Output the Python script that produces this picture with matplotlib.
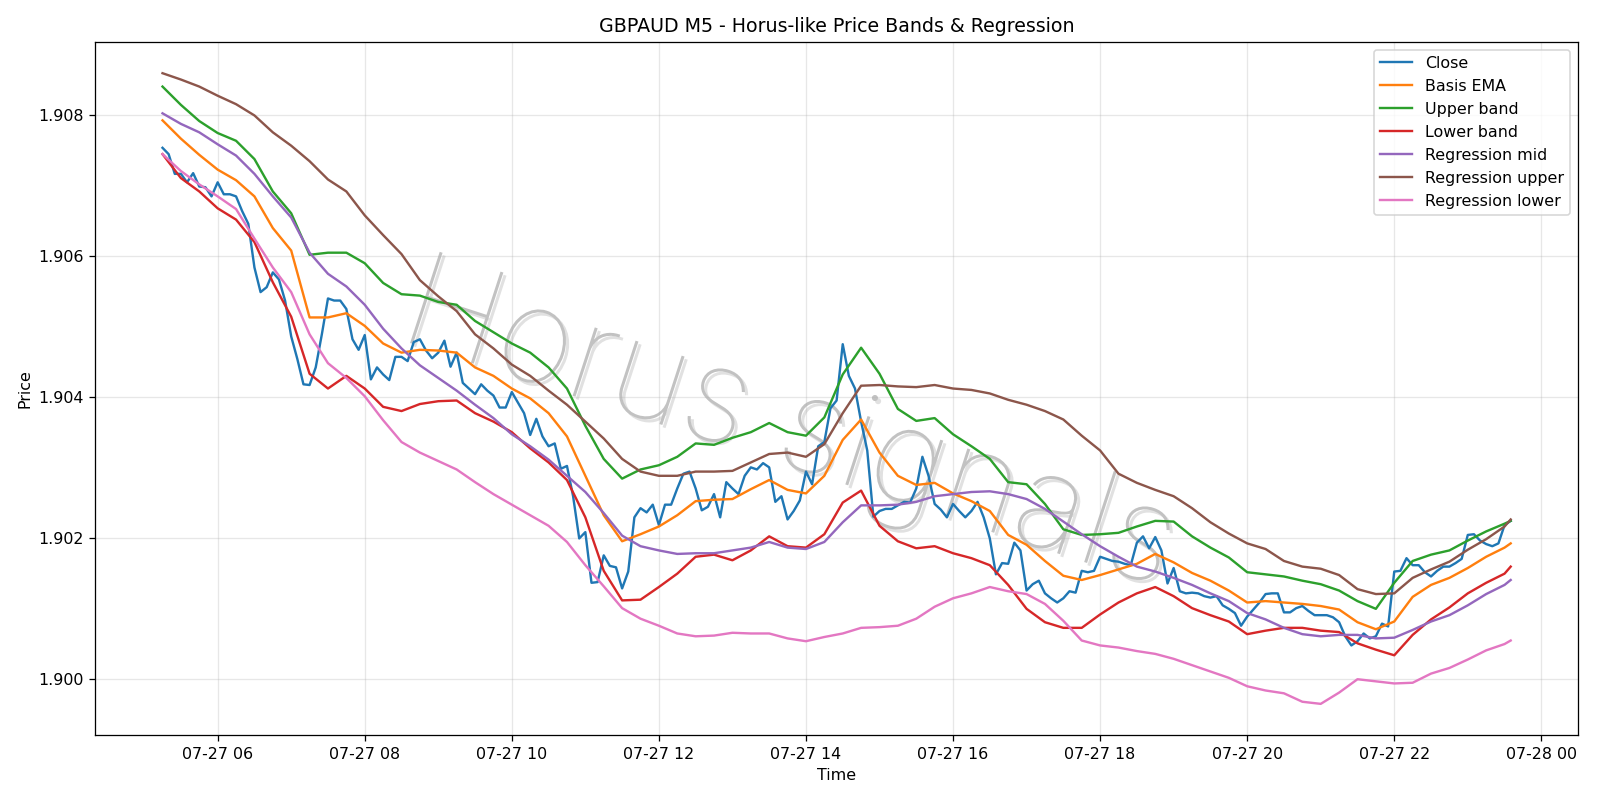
import matplotlib
matplotlib.use("Agg")
import matplotlib.pyplot as plt
import matplotlib.dates as mdates
import matplotlib.patheffects as pe
from matplotlib import font_manager as fm
import pandas as pd

# ---- data ----
start = "2025-07-27 05:15"
close = [
    1.90754, 1.90745, 1.90717, 1.90717, 1.90705, 1.90718, 1.90699, 1.90698, 1.90685, 1.90705,
    1.90688, 1.90688, 1.90685, 1.90664, 1.90646, 1.90584, 1.90549, 1.90556, 1.90577, 1.90567,
    1.90537, 1.90486, 1.90454, 1.90418, 1.90417, 1.90442, 1.90489, 1.90540, 1.90537, 1.90537,
    1.90525, 1.90482, 1.90467, 1.90488, 1.90425, 1.90442, 1.90432, 1.90424, 1.90457, 1.90457,
    1.90451, 1.90478, 1.90482, 1.90466, 1.90455, 1.90463, 1.90480, 1.90443, 1.90463, 1.90420,
    1.90412, 1.90404, 1.90418, 1.90409, 1.90402, 1.90385, 1.90385, 1.90407, 1.90392, 1.90377,
    1.90346, 1.90369, 1.90344, 1.90330, 1.90334, 1.90298, 1.90302, 1.90259, 1.90199, 1.90208,
    1.90136, 1.90137, 1.90175, 1.90160, 1.90158, 1.90128, 1.90152, 1.90229, 1.90242, 1.90236,
    1.90247, 1.90218, 1.90247, 1.90247, 1.90270, 1.90291, 1.90294, 1.90270, 1.90239, 1.90244,
    1.90262, 1.90229, 1.90279, 1.90270, 1.90262, 1.90288, 1.90300, 1.90297, 1.90306, 1.90300,
    1.90251, 1.90259, 1.90226, 1.90238, 1.90253, 1.90294, 1.90276, 1.90330, 1.90336, 1.90384,
    1.90395, 1.90475, 1.90430, 1.90412, 1.90365, 1.90324, 1.90230, 1.90238, 1.90241, 1.90241,
    1.90246, 1.90251, 1.90250, 1.90270, 1.90315, 1.90288, 1.90248, 1.90240, 1.90229, 1.90248,
    1.90238, 1.90229, 1.90238, 1.90251, 1.90229, 1.90199, 1.90148, 1.90164, 1.90163, 1.90193,
    1.90182, 1.90125, 1.90134, 1.90139, 1.90121, 1.90114, 1.90108, 1.90114, 1.90124, 1.90122,
    1.90153, 1.90151, 1.90153, 1.90173, 1.90170, 1.90167, 1.90166, 1.90163, 1.90161, 1.90193,
    1.90202, 1.90185, 1.90201, 1.90182, 1.90135, 1.90157, 1.90124, 1.90121, 1.90122, 1.90121,
    1.90117, 1.90115, 1.90117, 1.90104, 1.90099, 1.90093, 1.90075, 1.90088, 1.90098, 1.90108,
    1.90120, 1.90121, 1.90121, 1.90094, 1.90094, 1.90100, 1.90103, 1.90096, 1.90090, 1.90090,
    1.90090, 1.90087, 1.90080, 1.90060, 1.90047, 1.90053, 1.90064, 1.90057, 1.90060, 1.90078,
    1.90074, 1.90152, 1.90153, 1.90171, 1.90161, 1.90161, 1.90151, 1.90145, 1.90153, 1.90159,
    1.90159, 1.90164, 1.90170, 1.90204, 1.90205, 1.90196, 1.90191, 1.90188, 1.90192, 1.90218,
    1.90224,
]

# band / regression series sampled every 15 minutes (last point 23:35)
basis_ema = [
    1.90793, 1.90767, 1.90744, 1.90723, 1.90708, 1.90685, 1.90640, 1.90608, 1.90513, 1.90513,
    1.90519, 1.90501, 1.90476, 1.90463, 1.90467, 1.90466, 1.90463, 1.90442, 1.90430, 1.90412,
    1.90398, 1.90377, 1.90344, 1.90288, 1.90232, 1.90195, 1.90205, 1.90216, 1.90232, 1.90252,
    1.90254, 1.90255, 1.90269, 1.90282, 1.90268, 1.90263, 1.90288, 1.90339, 1.90368, 1.90321,
    1.90288, 1.90275, 1.90278, 1.90263, 1.90252, 1.90238, 1.90204, 1.90190, 1.90167, 1.90146,
    1.90140, 1.90147, 1.90155, 1.90163, 1.90177, 1.90165, 1.90150, 1.90139, 1.90125, 1.90108,
    1.90110, 1.90108, 1.90106, 1.90103, 1.90098, 1.90080, 1.90070, 1.90081, 1.90116, 1.90133,
    1.90143, 1.90157, 1.90173, 1.90186, 1.90192,
]
upper_band = [
    1.90841, 1.90815, 1.90792, 1.90775, 1.90764, 1.90738, 1.90692, 1.90661, 1.90602, 1.90605,
    1.90605, 1.90590, 1.90562, 1.90546, 1.90544, 1.90535, 1.90531, 1.90508, 1.90492, 1.90476,
    1.90463, 1.90442, 1.90412, 1.90359, 1.90312, 1.90284, 1.90297, 1.90303, 1.90315, 1.90334,
    1.90332, 1.90342, 1.90350, 1.90363, 1.90350, 1.90345, 1.90371, 1.90432, 1.90470, 1.90433,
    1.90383, 1.90366, 1.90370, 1.90347, 1.90330, 1.90312, 1.90279, 1.90276, 1.90248, 1.90212,
    1.90204, 1.90205, 1.90207, 1.90216, 1.90224, 1.90223, 1.90202, 1.90186, 1.90172, 1.90151,
    1.90148, 1.90145, 1.90139, 1.90134, 1.90125, 1.90110, 1.90099, 1.90136, 1.90167, 1.90176,
    1.90182, 1.90196, 1.90209, 1.90220, 1.90224,
]
lower_band = [
    1.90745, 1.90711, 1.90692, 1.90668, 1.90652, 1.90620, 1.90563, 1.90514, 1.90433, 1.90412,
    1.90430, 1.90412, 1.90386, 1.90380, 1.90390, 1.90394, 1.90395, 1.90377, 1.90365, 1.90350,
    1.90327, 1.90307, 1.90282, 1.90229, 1.90153, 1.90111, 1.90112, 1.90130, 1.90149, 1.90173,
    1.90176, 1.90168, 1.90182, 1.90202, 1.90188, 1.90186, 1.90205, 1.90250, 1.90267, 1.90217,
    1.90195, 1.90185, 1.90188, 1.90178, 1.90171, 1.90161, 1.90133, 1.90099, 1.90080, 1.90072,
    1.90072, 1.90091, 1.90108, 1.90121, 1.90130, 1.90117, 1.90100, 1.90090, 1.90081, 1.90063,
    1.90068, 1.90072, 1.90072, 1.90068, 1.90066, 1.90050, 1.90041, 1.90033, 1.90062, 1.90084,
    1.90101, 1.90121, 1.90136, 1.90149, 1.90159,
]
reg_mid = [
    1.90803, 1.90788, 1.90776, 1.90759, 1.90743, 1.90717, 1.90685, 1.90655, 1.90605, 1.90575,
    1.90557, 1.90531, 1.90497, 1.90469, 1.90445, 1.90427, 1.90409, 1.90389, 1.90370, 1.90347,
    1.90330, 1.90311, 1.90288, 1.90265, 1.90235, 1.90203, 1.90188, 1.90182, 1.90177, 1.90178,
    1.90178, 1.90182, 1.90186, 1.90194, 1.90186, 1.90184, 1.90194, 1.90222, 1.90246, 1.90246,
    1.90247, 1.90251, 1.90259, 1.90262, 1.90265, 1.90266, 1.90262, 1.90255, 1.90241, 1.90223,
    1.90205, 1.90188, 1.90173, 1.90159, 1.90152, 1.90143, 1.90133, 1.90121, 1.90110, 1.90093,
    1.90084, 1.90072, 1.90063, 1.90060, 1.90062, 1.90062, 1.90057, 1.90058, 1.90069, 1.90081,
    1.90090, 1.90104, 1.90120, 1.90133, 1.90140,
]
reg_upper = [
    1.90860, 1.90851, 1.90841, 1.90828, 1.90816, 1.90800, 1.90776, 1.90757, 1.90735, 1.90709,
    1.90692, 1.90658, 1.90630, 1.90603, 1.90566, 1.90543, 1.90522, 1.90489, 1.90469, 1.90446,
    1.90430, 1.90409, 1.90389, 1.90365, 1.90341, 1.90312, 1.90294, 1.90288, 1.90288, 1.90294,
    1.90294, 1.90295, 1.90307, 1.90319, 1.90321, 1.90315, 1.90333, 1.90377, 1.90416, 1.90417,
    1.90415, 1.90414, 1.90417, 1.90412, 1.90410, 1.90405, 1.90396, 1.90389, 1.90380, 1.90368,
    1.90345, 1.90324, 1.90291, 1.90278, 1.90268, 1.90259, 1.90242, 1.90222, 1.90206, 1.90192,
    1.90184, 1.90167, 1.90159, 1.90156, 1.90147, 1.90127, 1.90120, 1.90121, 1.90143, 1.90155,
    1.90166, 1.90183, 1.90198, 1.90216, 1.90226,
]
reg_lower = [
    1.90745, 1.90721, 1.90702, 1.90685, 1.90667, 1.90625, 1.90584, 1.90549, 1.90489, 1.90448,
    1.90427, 1.90401, 1.90367, 1.90336, 1.90321, 1.90309, 1.90297, 1.90279, 1.90262, 1.90247,
    1.90232, 1.90217, 1.90194, 1.90161, 1.90131, 1.90100, 1.90085, 1.90075, 1.90064, 1.90060,
    1.90061, 1.90065, 1.90064, 1.90064, 1.90057, 1.90053, 1.90059, 1.90064, 1.90072, 1.90073,
    1.90075, 1.90085, 1.90102, 1.90114, 1.90121, 1.90130, 1.90124, 1.90120, 1.90106, 1.90082,
    1.90054, 1.90047, 1.90044, 1.90039, 1.90035, 1.90028, 1.90019, 1.90010, 1.90001, 1.89989,
    1.89983, 1.89979, 1.89967, 1.89964, 1.89980, 1.89999, 1.89996, 1.89993, 1.89994, 1.90007,
    1.90015, 1.90027, 1.90040, 1.90049, 1.90054,
]

title = "GBPAUD M5 - Horus-like Price Bands & Regression"
watermark = "Horus signals"

# ---- pick a thin font for the watermark, if one is installed ----
prefs = ["DejaVu Sans", "Roboto", "Lato", "Inter", "Open Sans", "Noto Sans"]
best = None
for f in fm.fontManager.ttflist:
    if f.name in prefs and f.style == "normal":
        w = f.weight if isinstance(f.weight, int) else fm.weight_dict.get(f.weight, 400)
        key = (w, prefs.index(f.name))
        if best is None or key < best[0]:
            best = (key, f.fname)
wm_font = fm.FontProperties(fname=best[1]) if best else fm.FontProperties(family="DejaVu Sans")
wm_font.set_size(83)

# ---- time axes ----
t_close = pd.date_range(start, periods=len(close), freq="5min")
t_band = pd.date_range(start, periods=len(basis_ema) - 1, freq="15min").append(
    pd.DatetimeIndex([t_close[-1]]))

DPI = 1600 / 14
fig, ax = plt.subplots(figsize=(14, 7), dpi=DPI)

ax.text(0.468, 0.44, watermark, transform=ax.transAxes, fontproperties=wm_font,
        color="#c2c2c2", rotation=-18, ha="center", va="center", zorder=0,
        path_effects=[pe.withSimplePatchShadow(offset=(2, -2), shadow_rgbFace="#dedede", alpha=0.9)])

ax.plot(t_close, close, label="Close", color="#1f77b4", lw=1.5)
ax.plot(t_band, basis_ema, label="Basis EMA", color="#ff7f0e", lw=1.5)
ax.plot(t_band, upper_band, label="Upper band", color="#2ca02c", lw=1.5)
ax.plot(t_band, lower_band, label="Lower band", color="#d62728", lw=1.5)
ax.plot(t_band, reg_mid, label="Regression mid", color="#9467bd", lw=1.5)
ax.plot(t_band, reg_upper, label="Regression upper", color="#8c564b", lw=1.5)
ax.plot(t_band, reg_lower, label="Regression lower", color="#e377c2", lw=1.5)

ax.xaxis.set_major_locator(mdates.HourLocator(interval=2))
ax.xaxis.set_major_formatter(mdates.DateFormatter("%m-%d %H"))
ax.set_title(title)
ax.set_xlabel("Time")
ax.set_ylabel("Price")
ax.grid(True, alpha=0.3)
ax.legend(loc="upper right")

fig.tight_layout()
fig.savefig("out.png", dpi=DPI)
